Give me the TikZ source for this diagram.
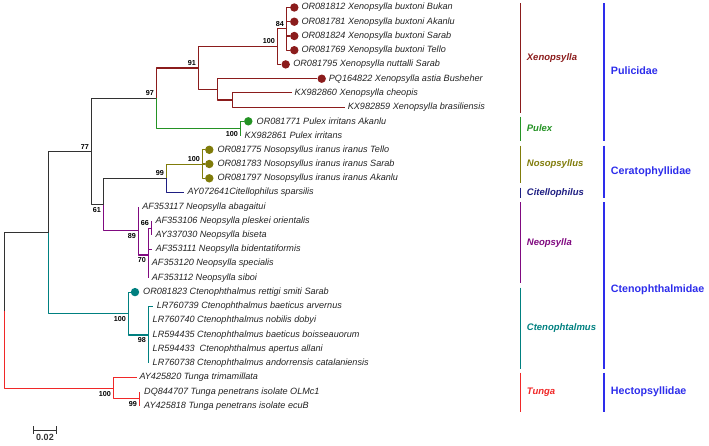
\documentclass[tikz,border=0pt]{standalone}
\usepackage{fontspec}
\setmainfont{Liberation Sans}
\usetikzlibrary{positioning,calc}

\definecolor{xeno}{RGB}{139,28,28}
\definecolor{pulex}{RGB}{36,146,36}
\definecolor{noso}{RGB}{128,124,10}
\definecolor{citello}{RGB}{30,30,130}
\definecolor{neo}{RGB}{128,10,128}
\definecolor{cteno}{RGB}{0,128,128}
\definecolor{tunga}{RGB}{240,40,40}
\definecolor{stem}{RGB}{50,50,50}
\definecolor{leaftext}{RGB}{35,35,35}
\definecolor{famblue}{RGB}{45,45,235}

\tikzset{
	branch/.style={line width=1.1pt, line join=round},
	leaf/.style={font=\itshape\fontsize{9.1}{10}\selectfont, text=leaftext, inner sep=0pt},
	boot/.style={font=\bfseries\fontsize{7.2}{8}\selectfont, inner sep=2.3pt},
	leafdot/.style={circle, fill=#1, inner sep=0pt, minimum size=8.4pt},
	genus/.style={font=\bfseries\itshape\fontsize{9.5}{11}\selectfont, text=#1, anchor=west, inner sep=0pt},
	family/.style={font=\bfseries\fontsize{10.7}{12}\selectfont, text=famblue, anchor=west, inner sep=0pt},
	gbar/.style={line width=1.2pt, draw=#1},
	fbar/.style={line width=2.4pt, draw=famblue}
}

\begin{document}
\begin{tikzpicture}[x=1pt,y=-1pt]
	\useasboundingbox (0,0) rectangle (709,445);

	% internal nodes
	\coordinate (root) at (4.5,310.6);
	\coordinate (A) at (48.5,232.7);
	\coordinate (B) at (91.5,151.5);
	\coordinate (C) at (156.5,98.4);
	\coordinate (D) at (198.5,68);
	\coordinate (E) at (277.5,46.4);
	\coordinate (F) at (286.5,28.8);
	\coordinate (G) at (217.5,89.7);
	\coordinate (H) at (232.5,100);
	\coordinate (Pu) at (240.5,128.5);
	\coordinate (I) at (103.5,204.6);
	\coordinate (J) at (166.5,178.4);
	\coordinate (K) at (202.5,164.1);
	\coordinate (L) at (138.5,230.9);
	\coordinate (M) at (148.5,255);
	\coordinate (N) at (151.5,228.1);
	\coordinate (P) at (128.5,313.8);
	\coordinate (Q) at (148.5,335);
	\coordinate (R) at (113.5,388.6);
	\coordinate (S) at (139.5,398.8);

	% backbone
	\draw[branch,stem] (root) |- (A);
	\draw[branch,tunga] (root) |- (R);
	\draw[branch,stem] (A) |- (B);
	\draw[branch,cteno] (A) |- (P);
	\draw[branch,stem] (B) |- (C) (B) |- (I);
	\draw[branch,xeno] (C) |- (D);
	\draw[branch,pulex] (C) |- (Pu);
	\draw[branch,xeno] (D) |- (E) (D) |- (G);
	\draw[branch,xeno] (E) |- (F);
	\draw[branch,xeno] (G) |- (H);
	\draw[branch,stem] (I) |- (J);
	\draw[branch,neo] (I) |- (L);
	\draw[branch,noso] (J) |- (K);
	\draw[branch,neo] (L) |- (M);
	\draw[branch,neo] (M) |- (N);
	\draw[branch,cteno] (P) |- (Q);
	\draw[branch,tunga] (R) |- (S);

	% Xenopsylla
	\node[leafdot=xeno] (d812) at (294.3,7.5) {};
	\node[leafdot=xeno] (d781) at (294.3,21.7) {};
	\node[leafdot=xeno] (d824) at (294.3,36) {};
	\node[leafdot=xeno] (d769) at (294.3,50.2) {};
	\node[leafdot=xeno] (d795) at (285.7,64.4) {};
	\node[leafdot=xeno] (d822) at (321.7,78.7) {};
	\coordinate (k860) at (291.7,92.9);
	\coordinate (k859) at (345,107.1);
	\draw[branch,xeno] (F) |- (d812) (F) |- (d781) (F) |- (d824) (F) |- (d769);
	\draw[branch,xeno] (E) |- (d795);
	\draw[branch,xeno] (G) |- (d822);
	\draw[branch,xeno] (H) |- (k860) (H) |- (k859);
	\node[leaf,right=2.6pt of d812] (t812) {OR081812 Xenopsylla buxtoni Bukan};
	\node[leaf,right=2.6pt of d781] (t781) {OR081781 Xenopsylla buxtoni Akanlu};
	\node[leaf,right=2.6pt of d824] (t824) {OR081824 Xenopsylla buxtoni Sarab};
	\node[leaf,right=2.6pt of d769] (t769) {OR081769 Xenopsylla buxtoni Tello};
	\node[leaf,right=3pt of d795] (t795) {OR081795 Xenopsylla nuttalli Sarab};
	\node[leaf,right=2.6pt of d822] (t822) {PQ164822 Xenopsylla astia Busheher};
	\node[leaf,right=2.6pt of k860] (t860) {KX982860 Xenopsylla cheopis};
	\node[leaf,right=2.6pt of k859] (t859) {KX982859 Xenopsylla brasiliensis};

	% Pulex
	\node[leafdot=pulex] (d771) at (248.3,121.3) {};
	\coordinate (k861) at (240.5,135.6);
	\draw[branch,pulex] (Pu) |- (d771) (Pu) |- (k861);
	\node[leaf,right=3.8pt of d771] (t771) {OR081771 Pulex irritans Akanlu};
	\node[leaf,right=3.8pt of k861] (t861) {KX982861 Pulex irritans};

	% Nosopsyllus, Citellophilus
	\node[leafdot=noso] (d775) at (209.3,149.8) {};
	\node[leafdot=noso] (d783) at (209.3,164) {};
	\node[leafdot=noso] (d797) at (209.3,178.3) {};
	\coordinate (a641) at (184.3,192.5);
	\draw[branch,noso] (K) |- (d775) (K) |- (d783) (K) |- (d797);
	\draw[branch,citello] (J) |- (a641);
	\node[leaf,right=3.6pt of d775] (t775) {OR081775 Nosopsyllus iranus iranus Tello};
	\node[leaf,right=3.6pt of d783] (t783) {OR081783 Nosopsyllus iranus iranus Sarab};
	\node[leaf,right=3.6pt of d797] (t797) {OR081797 Nosopsyllus iranus iranus Akanlu};
	\node[leaf,right=3pt of a641] (t641) {AY072641Citellophilus sparsilis};

	% Neopsylla
	\coordinate (a117) at (138.5,206.7);
	\coordinate (a106) at (151.5,221);
	\coordinate (a030) at (151.5,235.2);
	\coordinate (a111) at (152.2,249.4);
	\coordinate (a120) at (148.5,263.6);
	\coordinate (a112) at (148.5,277.9);
	\draw[branch,neo] (L) |- (a117);
	\draw[branch,neo] (N) |- (a106) (N) |- (a030);
	\draw[branch,neo] (M) |- (a111) (M) |- (a120) (M) |- (a112);
	\node[leaf,right=3.6pt of a117] (t117) {AF353117 Neopsylla abagaitui};
	\node[leaf,right=3.8pt of a106] (t106) {AF353106 Neopsylla pleskei orientalis};
	\node[leaf,right=3.8pt of a030] (t030) {AY337030 Neopsylla biseta};
	\node[leaf,right=3.4pt of a111] (t111) {AF353111 Neopsylla bidentatiformis};
	\node[leaf,right=3.2pt of a120] (t120) {AF353120 Neopsylla specialis};
	\node[leaf,right=3.2pt of a112] (t112) {AF353112 Neopsylla siboi};

	% Ctenophthalmus
	\node[leafdot=cteno] (d823) at (135,292.1) {};
	\coordinate (l739) at (153,306.3);
	\coordinate (l740) at (148.5,320.6);
	\coordinate (l435) at (148.5,334.8);
	\coordinate (l433) at (148.5,349);
	\coordinate (l738) at (148.5,363.3);
	\draw[branch,cteno] (P) |- (d823);
	\draw[branch,cteno] (Q) |- (l739) (Q) |- (l740) (Q) |- (l435) (Q) |- (l433) (Q) |- (l738);
	\node[leaf,right=3.6pt of d823] (t823) {OR081823 Ctenophthalmus rettigi smiti Sarab};
	\node[leaf,right=3.6pt of l739] (t739) {LR760739 Ctenophthalmus baeticus arvernus};
	\node[leaf,right=4pt of l740] (t740) {LR760740 Ctenophthalmus nobilis dobyi};
	\node[leaf,right=4pt of l435] (t435) {LR594435 Ctenophthalmus baeticus boisseauorum};
	\node[leaf,right=4pt of l433] (t433) {LR594433\ \ Ctenophthalmus apertus allani};
	\node[leaf,right=4pt of l738] (t738) {LR760738 Ctenophthalmus andorrensis catalaniensis};

	% Tunga
	\coordinate (a820) at (136.7,377.5);
	\coordinate (d707) at (139.5,391.7);
	\coordinate (a818) at (139.5,405.9);
	\draw[branch,tunga] (R) |- (a820);
	\draw[branch,tunga] (S) |- (d707) (S) |- (a818);
	\node[leaf,right=2.6pt of a820] (t820) {AY425820 Tunga trimamillata};
	\node[leaf,right=4.5pt of d707] (t707) {DQ844707 Tunga penetrans isolate OLMc1};
	\node[leaf,right=4.5pt of a818] (t818) {AY425818 Tunga penetrans isolate ecuB};

	% bootstrap values
	\node[boot,above left] at (F) {84};
	\node[boot,above left] at (E) {100};
	\node[boot,above left] at (D) {91};
	\node[boot,above left] at (C) {97};
	\node[boot,above left] at (B) {77};
	\node[boot,below left] at (Pu) {100};
	\node[boot,above left] at (K) {100};
	\node[boot,above left] at (J) {99};
	\node[boot,below left] at (I) {61};
	\node[boot,above left] at (N) {66};
	\node[boot,below left] at (L) {89};
	\node[boot,below left] at (M) {70};
	\node[boot,below left] at (P) {100};
	\node[boot,below left] at (Q) {98};
	\node[boot,below left] at (R) {100};
	\node[boot,below left] at (S) {99};

	% genera
	\draw[gbar=xeno] (520.5,3.3) -- (520.5,112.7);
	\draw[gbar=pulex] (520.5,116.7) -- (520.5,141);
	\draw[gbar=noso] (520.5,145.7) -- (520.5,183.3);
	\draw[gbar=citello] (520.5,187.7) -- (520.5,198.3);
	\draw[gbar=neo] (520.5,202.3) -- (520.5,283.3);
	\draw[gbar=cteno] (520.5,287.7) -- (520.5,369);
	\draw[gbar=tunga] (520.5,372.7) -- (520.5,411.7);
	\node[genus=xeno] (gXeno) at (526.7,57.7) {Xenopsylla};
	\node[genus=pulex] (gPulex) at (526.7,128.3) {Pulex};
	\node[genus=noso] (gNoso) at (526.7,164.3) {Nosopsyllus};
	\node[genus=citello] (gCit) at (526.7,192.7) {Citellophilus};
	\node[genus=neo] (gNeo) at (526.7,242.7) {Neopsylla};
	\node[genus=cteno] (gCteno) at (526.7,327.7) {Ctenophtalmus};
	\node[genus=tunga] (gTunga) at (526.7,392.3) {Tunga};

	% families
	\draw[fbar] (604,3.3) -- (604,141);
	\draw[fbar] (604,145.7) -- (604,198.3);
	\draw[fbar] (604,202.3) -- (604,369);
	\draw[fbar] (604,372.7) -- (604,411.7);
	\node[family] (fPul) at (610.7,71) {Pulicidae};
	\node[family] (fCer) at (610.7,172) {Ceratophyllidae};
	\node[family] (fCte) at (610.7,290) {Ctenophthalmidae};
	\node[family] (fHec) at (610.7,391.7) {Hectopsyllidae};

	% scale bar
	\coordinate (sbl) at (33.3,430);
	\coordinate (sbr) at (56.7,430);
	\draw[stem,line width=1pt,|-|] (sbl) -- (sbr);
	\node[font=\bfseries\fontsize{9}{10}\selectfont, text=stem, below=0.5pt] (sbt) at ($(sbl)!0.5!(sbr)$) {0.02};
\end{tikzpicture}
\end{document}
